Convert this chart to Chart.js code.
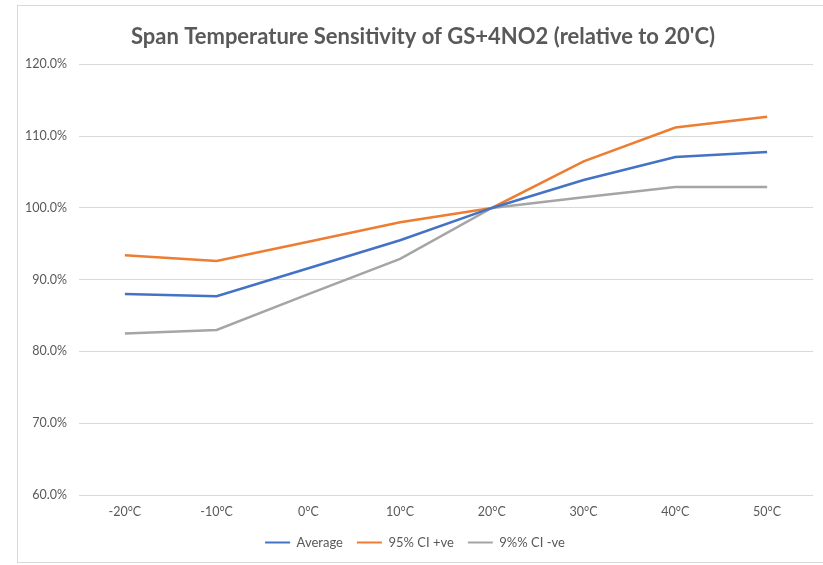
<!DOCTYPE html>
<html>
<head>
<meta charset="utf-8">
<script src="https://cdn.jsdelivr.net/npm/chart.js@4"></script>
<style>
    html, body { margin: 0; padding: 0; background: #ffffff; }
    #wrap { width: 823px; height: 565px; position: relative; }
</style>
</head>
<body>
<div id="wrap"><canvas id="grafico" width="823" height="565"></canvas></div>
<script>
const temperaturas = ["-20°C", "-10°C", "0°C", "10°C", "20°C", "30°C", "40°C", "50°C"];

const media = [88.0, 87.7, 91.6, 95.5, 100.0, 103.9, 107.1, 107.8];
const ciMais = [93.4, 92.6, 95.3, 98.0, 100.0, 106.5, 111.2, 112.7];
const ciMenos = [82.5, 83.0, 88.0, 92.9, 100.0, 101.5, 102.9, 102.9];

const nomesSeries = ["Average", "95% CI +ve", "9%% CI -ve"];
const cores = ["#4472C4", "#ED7D31", "#A5A5A5"];

const fonte = "Lato, 'Open Sans', sans-serif";
const corTexto = "#595959";

// moldura cinza em volta do grafico
const moldura = {
    id: "moldura",
    afterLayout(chart) {
        // titulo um pouco mais para a direita, como no original
        if (chart.titleBlock) {
            chart.titleBlock.left += 8;
            chart.titleBlock.right += 8;
        }
    },
    beforeDraw(chart) {
        const ctx = chart.ctx;
        ctx.save();
        ctx.fillStyle = "#ffffff";
        ctx.fillRect(0, 0, chart.width, chart.height);
        ctx.strokeStyle = "#d9d9d9";
        ctx.lineWidth = 1;
        ctx.strokeRect(17.5, 5.5, chart.width, 557);
        ctx.restore();
    }
};

function serie(i, dados) {
    return {
        label: nomesSeries[i],
        data: dados,
        borderColor: cores[i],
        backgroundColor: cores[i],
        borderWidth: 2.5,
        pointRadius: 0,
        tension: 0
    };
}

new Chart(document.getElementById("grafico"), {
    type: "line",
    data: {
        labels: temperaturas,
        datasets: [
            serie(0, media),
            serie(1, ciMais),
            serie(2, ciMenos)
        ]
    },
    plugins: [moldura],
    options: {
        responsive: false,
        animation: false,
        layout: {
            padding: { left: 17, right: 10, top: 0, bottom: 6 }
        },
        plugins: {
            title: {
                display: true,
                text: "Span Temperature Sensitivity of GS+4NO2 (relative to 20'C)",
                color: corTexto,
                font: { family: fonte, size: 22, weight: "bold" },
                padding: { top: 24, bottom: 14 }
            },
            legend: {
                position: "bottom",
                labels: {
                    color: corTexto,
                    font: { family: fonte, size: 13 },
                    boxWidth: 25,
                    boxHeight: 2,
                    padding: 14,
                    generateLabels(chart) {
                        return chart.data.datasets.map((d, i) => ({
                            text: d.label,
                            fillStyle: d.borderColor,
                            strokeStyle: d.borderColor,
                            lineWidth: 0,
                            fontColor: corTexto,
                            datasetIndex: i
                        }));
                    }
                }
            },
            tooltip: { enabled: false }
        },
        scales: {
            x: {
                offset: true,
                grid: { display: false },
                border: { display: false },
                ticks: {
                    color: corTexto,
                    font: { family: fonte, size: 12.5 },
                    padding: 1,
                    maxRotation: 0
                },
                afterFit(s) { s.height = 27; }
            },
            y: {
                min: 60,
                max: 120,
                grid: { color: "#d9d9d9", drawTicks: false },
                border: { display: false },
                ticks: {
                    stepSize: 10,
                    color: corTexto,
                    font: { family: fonte, size: 12.5 },
                    padding: 12,
                    callback: v => v.toFixed(1) + "%"
                },
                afterFit(s) { s.width = 62; }
            }
        }
    }
});
</script>
</body>
</html>
